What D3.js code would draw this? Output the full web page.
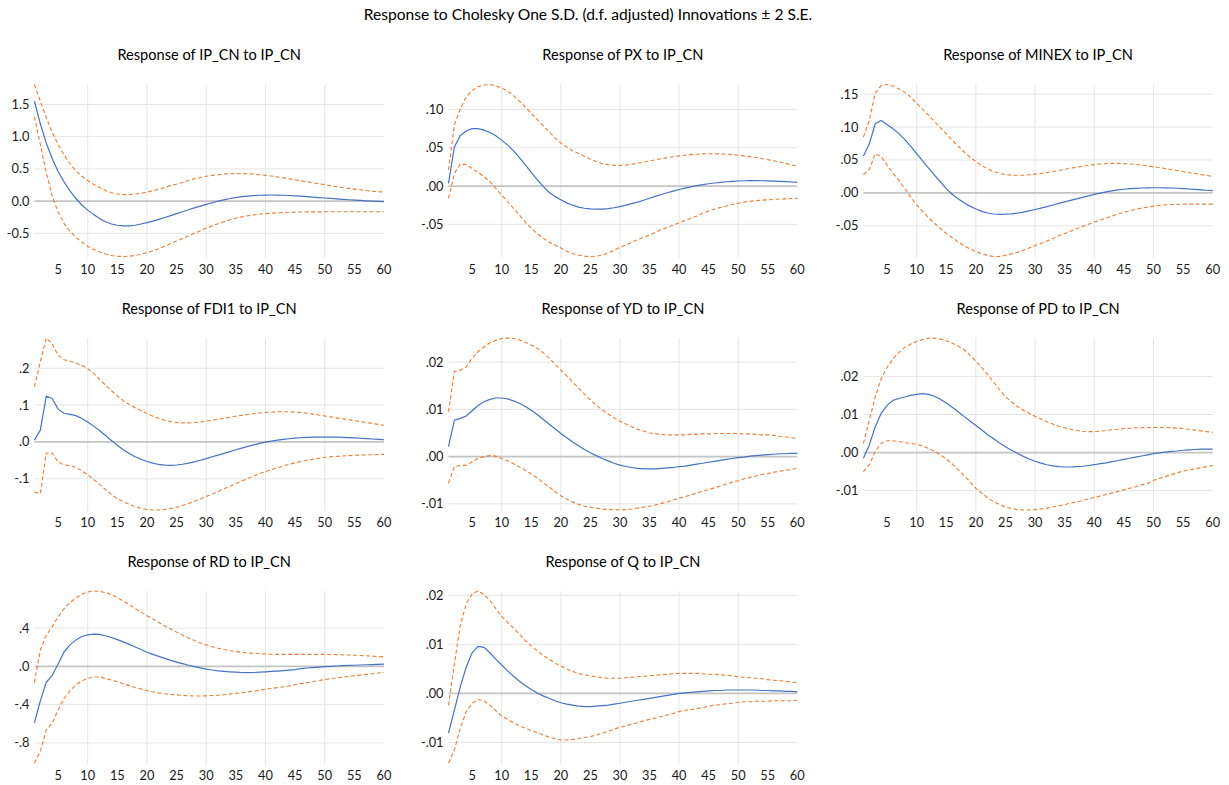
<!DOCTYPE html>
<html>
<head>
<meta charset="utf-8">
<script src="https://cdn.jsdelivr.net/npm/d3@7"></script>
<style>
  html, body { margin: 0; padding: 0; background: #ffffff; }
  svg { display: block; }
  text { font-family: "Lato", "Liberation Sans", sans-serif; }
</style>
</head>
<body>
<svg id="chart" width="1229" height="785"></svg>
<script>
// ---------------- DATA ----------------
const mainTitle = "Response to Cholesky One S.D. (d.f. adjusted) Innovations \u00B1 2 S.E.";
const periods = d3.range(1, 61);
const xTickValues = [5, 10, 15, 20, 25, 30, 35, 40, 45, 50, 55, 60];
const xGridValues = [10, 20, 30, 40, 50];

const panelTitles = [
  "Response of IP_CN to IP_CN", "Response of PX to IP_CN", "Response of MINEX to IP_CN",
  "Response of FDI1 to IP_CN", "Response of YD to IP_CN", "Response of PD to IP_CN",
  "Response of RD to IP_CN", "Response of Q to IP_CN"
];

// IP_CN
const ipcnIrf = [1.55,1.20,0.90,0.66,0.46,0.30,0.16,0.04,-0.06,-0.14,
  -0.21,-0.27,-0.32,-0.355,-0.375,-0.385,-0.385,-0.375,-0.355,-0.335,
  -0.31,-0.283,-0.255,-0.225,-0.195,-0.165,-0.135,-0.105,-0.077,-0.05,
  -0.025,0.0,0.02,0.04,0.055,0.068,0.078,0.086,0.091,0.094,
  0.095,0.094,0.091,0.087,0.082,0.076,0.069,0.062,0.055,0.048,
  0.041,0.034,0.027,0.021,0.015,0.01,0.005,0.0,-0.004,-0.008];
const ipcnUpper = [1.81,1.55,1.30,1.07,0.88,0.72,0.58,0.47,0.39,0.32,
  0.26,0.21,0.165,0.13,0.11,0.10,0.10,0.11,0.12,0.14,
  0.16,0.185,0.21,0.24,0.265,0.29,0.32,0.345,0.365,0.385,
  0.40,0.41,0.42,0.425,0.428,0.428,0.425,0.42,0.41,0.40,
  0.39,0.375,0.36,0.345,0.33,0.315,0.30,0.285,0.27,0.255,
  0.24,0.225,0.21,0.198,0.186,0.175,0.165,0.155,0.147,0.14];
const ipcnLower = [1.31,0.88,0.44,0.08,-0.17,-0.35,-0.47,-0.56,-0.64,-0.70,
  -0.75,-0.79,-0.82,-0.845,-0.855,-0.86,-0.855,-0.845,-0.825,-0.80,
  -0.77,-0.74,-0.70,-0.66,-0.62,-0.58,-0.54,-0.50,-0.46,-0.42,
  -0.385,-0.35,-0.32,-0.29,-0.265,-0.245,-0.228,-0.214,-0.203,-0.195,
  -0.188,-0.182,-0.178,-0.174,-0.171,-0.169,-0.168,-0.167,-0.167,-0.166,
  -0.166,-0.166,-0.165,-0.165,-0.165,-0.165,-0.165,-0.165,-0.165,-0.165];

// PX
const pxIrf = [0.0035,0.051,0.066,0.072,0.075,0.075,0.073,0.070,0.0656,0.060,
  0.0535,0.046,0.037,0.0275,0.018,0.0085,-0.0005,-0.008,-0.0135,-0.018,
  -0.022,-0.025,-0.0275,-0.029,-0.0298,-0.0302,-0.0302,-0.0295,-0.0283,-0.0268,
  -0.025,-0.023,-0.021,-0.0185,-0.016,-0.0135,-0.011,-0.0088,-0.0066,-0.0045,
  -0.0027,-0.001,0.0005,0.0018,0.003,0.004,0.0049,0.0056,0.0062,0.0066,
  0.0069,0.007,0.007,0.0069,0.0067,0.0064,0.0061,0.0057,0.0053,0.0048];
const pxUpper = [0.021,0.080,0.101,0.1165,0.125,0.1296,0.132,0.1326,0.131,0.128,
  0.124,0.118,0.111,0.103,0.095,0.087,0.079,0.071,0.063,0.056,
  0.051,0.046,0.0425,0.039,0.035,0.032,0.0295,0.028,0.027,0.027,
  0.0275,0.0285,0.0298,0.0312,0.0327,0.0342,0.0357,0.037,0.0383,0.0394,
  0.0403,0.041,0.0416,0.042,0.0422,0.0422,0.042,0.0416,0.041,0.0403,
  0.0394,0.0384,0.0372,0.0359,0.0345,0.033,0.0314,0.0297,0.0278,0.026];
const pxLower = [-0.016,0.0165,0.029,0.028,0.023,0.018,0.012,0.0057,-0.003,-0.0117,
  -0.0205,-0.029,-0.038,-0.047,-0.055,-0.062,-0.068,-0.073,-0.077,-0.081,
  -0.085,-0.088,-0.090,-0.0915,-0.092,-0.0915,-0.090,-0.0875,-0.084,-0.080,
  -0.077,-0.0735,-0.070,-0.067,-0.064,-0.0605,-0.057,-0.054,-0.051,-0.048,
  -0.045,-0.042,-0.039,-0.0355,-0.0325,-0.030,-0.028,-0.026,-0.024,-0.0225,
  -0.021,-0.020,-0.019,-0.0185,-0.018,-0.0175,-0.017,-0.0167,-0.0163,-0.016];

// MINEX
const minexIrf = [0.056,0.0747,0.105,0.110,0.104,0.0975,0.090,0.081,0.0707,0.0596,
  0.0485,0.0375,0.027,0.017,0.0066,-0.002,-0.009,-0.015,-0.020,-0.0245,
  -0.028,-0.0305,-0.032,-0.0325,-0.0323,-0.0318,-0.0308,-0.0292,-0.0273,-0.0252,
  -0.023,-0.0207,-0.0183,-0.0159,-0.0136,-0.0113,-0.009,-0.0067,-0.0044,-0.0022,
  -0.0002,0.0015,0.0031,0.0045,0.0056,0.0064,0.007,0.0075,0.0078,0.0079,
  0.0079,0.0077,0.0075,0.0071,0.0066,0.006,0.0054,0.0047,0.0041,0.0035];
const minexUpper = [0.0848,0.110,0.1515,0.163,0.1646,0.162,0.158,0.153,0.1455,0.136,
  0.127,0.118,0.1085,0.099,0.0895,0.080,0.071,0.0625,0.0545,0.0475,
  0.0415,0.0365,0.0325,0.0295,0.0278,0.027,0.0268,0.027,0.0276,0.0285,
  0.0295,0.031,0.0325,0.034,0.0358,0.0375,0.039,0.0405,0.042,0.043,
  0.044,0.0445,0.0448,0.0448,0.0445,0.044,0.0432,0.0422,0.041,0.0398,
  0.0385,0.037,0.0355,0.034,0.0325,0.031,0.0295,0.028,0.0265,0.025];
const minexLower = [0.0278,0.0354,0.0596,0.0556,0.042,0.030,0.019,0.0066,-0.0065,-0.018,
  -0.028,-0.0375,-0.046,-0.054,-0.0615,-0.068,-0.0745,-0.080,-0.085,-0.089,
  -0.0925,-0.095,-0.0965,-0.0965,-0.0945,-0.0925,-0.09,-0.087,-0.0835,-0.08,
  -0.0765,-0.073,-0.069,-0.065,-0.0615,-0.058,-0.0545,-0.051,-0.0475,-0.044,
  -0.041,-0.038,-0.035,-0.032,-0.0295,-0.027,-0.025,-0.023,-0.0215,-0.020,
  -0.019,-0.018,-0.0175,-0.0172,-0.017,-0.017,-0.017,-0.017,-0.017,-0.017];

// FDI1
const fdiIrf = [0.005,0.032,0.124,0.118,0.089,0.078,0.075,0.0715,0.0635,0.054,
  0.043,0.031,0.0175,0.004,-0.009,-0.021,-0.031,-0.040,-0.047,-0.053,
  -0.0575,-0.061,-0.063,-0.0635,-0.0625,-0.0605,-0.0575,-0.054,-0.0495,-0.045,
  -0.040,-0.0355,-0.031,-0.026,-0.021,-0.0165,-0.012,-0.008,-0.004,-0.0005,
  0.0025,0.005,0.007,0.0088,0.0103,0.0115,0.0124,0.013,0.0133,0.0134,
  0.0133,0.013,0.0125,0.0118,0.011,0.0101,0.0091,0.008,0.007,0.006];
const fdiUpper = [0.150,0.217,0.282,0.266,0.235,0.223,0.219,0.214,0.208,0.199,
  0.186,0.170,0.154,0.139,0.125,0.112,0.102,0.093,0.085,0.077,
  0.070,0.064,0.059,0.0552,0.0528,0.0518,0.0518,0.0527,0.0543,0.0565,
  0.059,0.0617,0.0645,0.0672,0.0698,0.0722,0.0745,0.0767,0.0786,0.0802,
  0.0813,0.082,0.0822,0.0818,0.081,0.0796,0.0778,0.0756,0.0732,0.0706,
  0.068,0.0654,0.0628,0.0603,0.0578,0.0553,0.0528,0.0503,0.0478,0.0455];
const fdiLower = [-0.136,-0.140,-0.030,-0.030,-0.054,-0.0625,-0.064,-0.069,-0.078,-0.089,
  -0.102,-0.115,-0.129,-0.142,-0.154,-0.162,-0.169,-0.175,-0.18,-0.183,
  -0.1845,-0.1845,-0.183,-0.1805,-0.177,-0.1725,-0.167,-0.161,-0.1545,-0.148,
  -0.141,-0.134,-0.127,-0.12,-0.113,-0.106,-0.099,-0.0925,-0.086,-0.0805,
  -0.075,-0.07,-0.065,-0.0605,-0.0565,-0.053,-0.0495,-0.0465,-0.044,-0.042,
  -0.0405,-0.039,-0.038,-0.037,-0.036,-0.0355,-0.035,-0.0345,-0.034,-0.0335];

// YD
const ydIrf = [0.0021,0.0077,0.0081,0.0086,0.0097,0.0108,0.0116,0.0121,0.0124,0.0124,
  0.0122,0.0118,0.0113,0.0106,0.0098,0.0089,0.0079,0.0069,0.0059,0.0049,
  0.004,0.0031,0.0023,0.0015,0.0008,0.0002,-0.0004,-0.0009,-0.0014,-0.0018,
  -0.0021,-0.0023,-0.0025,-0.0026,-0.0026,-0.0026,-0.0025,-0.0024,-0.0023,-0.0021,
  -0.002,-0.0018,-0.0016,-0.0014,-0.0012,-0.001,-0.0008,-0.0006,-0.0004,-0.0002,
  -0.0001,0.0001,0.0002,0.0003,0.0004,0.0005,0.0006,0.0006,0.0007,0.0007];
const ydUpper = [0.0095,0.018,0.0183,0.019,0.0208,0.0222,0.0232,0.0241,0.0246,0.025,
  0.0251,0.025,0.0247,0.0242,0.0236,0.0229,0.022,0.0209,0.0196,0.0183,
  0.0171,0.0158,0.0145,0.0132,0.012,0.0109,0.0099,0.009,0.0082,0.0075,
  0.0069,0.0063,0.0058,0.0054,0.005,0.0048,0.0047,0.0046,0.0046,0.0046,
  0.0046,0.0047,0.0047,0.0048,0.0048,0.0049,0.0049,0.0049,0.0049,0.0049,
  0.0048,0.0048,0.0047,0.0046,0.0046,0.0045,0.0043,0.0042,0.004,0.0038];
const ydLower = [-0.0056,-0.0021,-0.0019,-0.0018,-0.0011,-0.0004,0.0,0.0002,0.0001,-0.0004,
  -0.0009,-0.0015,-0.0022,-0.0029,-0.0037,-0.0045,-0.0055,-0.0064,-0.0074,-0.0083,
  -0.009,-0.0096,-0.0101,-0.0105,-0.0107,-0.0109,-0.0111,-0.0112,-0.0112,-0.0113,
  -0.0112,-0.0111,-0.0109,-0.0107,-0.0105,-0.0102,-0.0099,-0.0096,-0.0092,-0.0088,
  -0.0085,-0.0081,-0.0077,-0.0073,-0.007,-0.0066,-0.0062,-0.0058,-0.0054,-0.0051,
  -0.0047,-0.0044,-0.0041,-0.0038,-0.0036,-0.0033,-0.0031,-0.0029,-0.0027,-0.0025];

// PD
const pdIrf = [-0.0015,0.002,0.0068,0.0103,0.0124,0.0137,0.0142,0.0146,0.015,0.0153,
  0.0155,0.0153,0.0148,0.014,0.013,0.0119,0.0107,0.0095,0.0083,0.0071,
  0.0059,0.0047,0.0036,0.0025,0.0015,0.0006,-0.0002,-0.001,-0.0017,-0.0023,
  -0.0028,-0.0032,-0.0035,-0.0037,-0.0038,-0.0038,-0.0037,-0.0036,-0.0034,-0.0032,
  -0.0029,-0.0027,-0.0024,-0.0021,-0.0018,-0.0015,-0.0012,-0.0009,-0.0006,-0.0003,
  -0.0001,0.0001,0.0003,0.0004,0.0006,0.0007,0.0008,0.0009,0.0009,0.0009];
const pdUpper = [0.0024,0.0085,0.0146,0.0194,0.0224,0.0246,0.0263,0.0277,0.0285,0.0292,
  0.0297,0.03,0.0301,0.0298,0.0294,0.0288,0.028,0.027,0.0256,0.024,
  0.0223,0.0205,0.0185,0.0165,0.0147,0.0133,0.0121,0.0111,0.0103,0.0095,
  0.0088,0.0081,0.0075,0.0069,0.0065,0.0061,0.0058,0.0056,0.0055,0.0055,
  0.0056,0.0058,0.006,0.0061,0.0063,0.0064,0.0065,0.0065,0.0066,0.0066,
  0.0066,0.0066,0.0065,0.0064,0.0063,0.0061,0.0059,0.0057,0.0055,0.0053];
const pdLower = [-0.005,-0.0032,0.0003,0.0024,0.0031,0.0031,0.0029,0.0026,0.0024,0.0022,
  0.0017,0.0011,0.0003,-0.0006,-0.0017,-0.003,-0.0045,-0.006,-0.0077,-0.0094,
  -0.0107,-0.0119,-0.0129,-0.0137,-0.0143,-0.0147,-0.015,-0.0151,-0.0151,-0.015,
  -0.0148,-0.0146,-0.0143,-0.014,-0.0137,-0.0133,-0.013,-0.0126,-0.0122,-0.0118,
  -0.0114,-0.011,-0.0106,-0.0102,-0.0098,-0.0094,-0.009,-0.0085,-0.0081,-0.0073,
  -0.0068,-0.0063,-0.0058,-0.0053,-0.0049,-0.0046,-0.0043,-0.004,-0.0037,-0.0034];

// RD
const rdIrf = [-0.59,-0.36,-0.167,-0.095,0.025,0.15,0.225,0.277,0.312,0.33,
  0.338,0.335,0.32,0.302,0.28,0.256,0.23,0.203,0.176,0.148,
  0.125,0.104,0.083,0.063,0.045,0.028,0.012,-0.003,-0.016,-0.028,
  -0.038,-0.046,-0.052,-0.057,-0.061,-0.064,-0.065,-0.064,-0.061,-0.057,
  -0.053,-0.049,-0.044,-0.039,-0.033,-0.0225,-0.017,-0.012,-0.007,-0.003,
  0.001,0.004,0.007,0.010,0.012,0.0145,0.017,0.019,0.021,0.023];
const rdUpper = [-0.17,0.17,0.326,0.413,0.517,0.604,0.667,0.715,0.753,0.778,
  0.788,0.785,0.771,0.75,0.719,0.684,0.645,0.606,0.567,0.53,
  0.494,0.458,0.423,0.39,0.358,0.326,0.297,0.27,0.246,0.225,
  0.206,0.19,0.176,0.164,0.155,0.147,0.141,0.136,0.132,0.129,
  0.127,0.126,0.125,0.125,0.125,0.125,0.125,0.125,0.125,0.125,
  0.124,0.123,0.121,0.119,0.117,0.114,0.111,0.107,0.103,0.099];
const rdLower = [-1.01,-0.889,-0.663,-0.594,-0.455,-0.333,-0.257,-0.194,-0.153,-0.125,
  -0.111,-0.111,-0.125,-0.142,-0.16,-0.181,-0.201,-0.22,-0.237,-0.253,
  -0.266,-0.277,-0.286,-0.293,-0.298,-0.303,-0.307,-0.309,-0.309,-0.308,
  -0.305,-0.301,-0.296,-0.29,-0.283,-0.275,-0.267,-0.258,-0.249,-0.24,
  -0.231,-0.222,-0.213,-0.204,-0.19,-0.18,-0.17,-0.16,-0.148,-0.137,
  -0.128,-0.12,-0.112,-0.105,-0.098,-0.091,-0.084,-0.077,-0.07,-0.064];

// Q
const qIrf = [-0.0081,-0.0034,0.0014,0.0054,0.0083,0.0096,0.0094,0.0083,0.007,0.0058,
  0.0046,0.0035,0.0025,0.0016,0.0008,0.0001,-0.0005,-0.001,-0.0015,-0.0019,
  -0.0022,-0.0024,-0.0026,-0.0027,-0.0027,-0.0026,-0.0025,-0.0024,-0.0022,-0.002,
  -0.0018,-0.0016,-0.0014,-0.0012,-0.001,-0.0008,-0.0006,-0.0004,-0.0002,0.0,
  0.0001,0.0002,0.0003,0.0004,0.0005,0.0006,0.0006,0.0007,0.0007,0.0007,
  0.0007,0.0007,0.0007,0.0006,0.0006,0.0005,0.0005,0.0004,0.0004,0.0003];
const qUpper = [-0.0024,0.0061,0.0139,0.0183,0.0203,0.0209,0.0202,0.019,0.0173,0.0157,
  0.0145,0.0133,0.0121,0.0108,0.0097,0.0087,0.0078,0.007,0.0062,0.0056,
  0.005,0.0045,0.0041,0.0038,0.0036,0.0034,0.0032,0.0031,0.0031,0.0031,
  0.0032,0.0033,0.0034,0.0035,0.0036,0.0037,0.0038,0.0039,0.004,0.0041,
  0.0041,0.0041,0.0041,0.004,0.0039,0.0039,0.0038,0.0037,0.0036,0.0034,
  0.0033,0.0032,0.0031,0.003,0.0028,0.0027,0.0026,0.0025,0.0023,0.0022];
const qLower = [-0.0142,-0.0115,-0.0071,-0.0037,-0.002,-0.0012,-0.0015,-0.0024,-0.0035,-0.0046,
  -0.0053,-0.006,-0.0066,-0.0071,-0.0076,-0.008,-0.0085,-0.0089,-0.0092,-0.0095,
  -0.0095,-0.0094,-0.0092,-0.009,-0.0088,-0.0085,-0.0081,-0.0077,-0.0073,-0.0069,
  -0.0066,-0.0063,-0.006,-0.0056,-0.0053,-0.005,-0.0047,-0.0044,-0.0041,-0.0037,
  -0.0035,-0.0033,-0.0031,-0.0029,-0.0026,-0.0024,-0.0023,-0.0021,-0.002,-0.0018,
  -0.0017,-0.0017,-0.0016,-0.0016,-0.0016,-0.0015,-0.0015,-0.0015,-0.0015,-0.0014];

// Y-axis ticks per panel
const yTicksIpcn = [-0.5, 0, 0.5, 1.0, 1.5];
const yLabelsIpcn = ["-0.5", "0.0", "0.5", "1.0", "1.5"];
const yTicksPx = [-0.05, 0, 0.05, 0.10];
const yLabelsPx = ["-.05", ".00", ".05", ".10"];
const yTicksMinex = [-0.05, 0, 0.05, 0.10, 0.15];
const yLabelsMinex = ["-.05", ".00", ".05", ".10", ".15"];
const yTicksFdi = [-0.1, 0, 0.1, 0.2];
const yLabelsFdi = ["-.1", ".0", ".1", ".2"];
const yTicksYd = [-0.01, 0, 0.01, 0.02];
const yLabelsYd = ["-.01", ".00", ".01", ".02"];
const yTicksPd = [-0.01, 0, 0.01, 0.02];
const yLabelsPd = ["-.01", ".00", ".01", ".02"];
const yTicksRd = [-0.8, -0.4, 0, 0.4];
const yLabelsRd = ["-.8", "-.4", ".0", ".4"];
const yTicksQ = [-0.01, 0, 0.01, 0.02];
const yLabelsQ = ["-.01", ".00", ".01", ".02"];

// ---------------- BUILD ----------------
const panels = [
  {title: panelTitles[0], irf: ipcnIrf, up: ipcnUpper, lo: ipcnLower, ticks: yTicksIpcn, labels: yLabelsIpcn},
  {title: panelTitles[1], irf: pxIrf, up: pxUpper, lo: pxLower, ticks: yTicksPx, labels: yLabelsPx},
  {title: panelTitles[2], irf: minexIrf, up: minexUpper, lo: minexLower, ticks: yTicksMinex, labels: yLabelsMinex},
  {title: panelTitles[3], irf: fdiIrf, up: fdiUpper, lo: fdiLower, ticks: yTicksFdi, labels: yLabelsFdi},
  {title: panelTitles[4], irf: ydIrf, up: ydUpper, lo: ydLower, ticks: yTicksYd, labels: yLabelsYd},
  {title: panelTitles[5], irf: pdIrf, up: pdUpper, lo: pdLower, ticks: yTicksPd, labels: yLabelsPd},
  {title: panelTitles[6], irf: rdIrf, up: rdUpper, lo: rdLower, ticks: yTicksRd, labels: yLabelsRd},
  {title: panelTitles[7], irf: qIrf, up: qUpper, lo: qLower, ticks: yTicksQ, labels: yLabelsQ}
];

const colLeft = [34.4, 448.5, 863.4];
const colRight = [384, 797.3, 1212.7];
const rowTop = [84.5, 338, 591];
const plotH = 172;

const svg = d3.select("#chart");

svg.append("text")
  .attr("x", 588).attr("y", 20)
  .attr("text-anchor", "middle")
  .attr("font-size", 15.6)
  .attr("fill", "#000")
  .text(mainTitle);

panels.forEach((p, i) => {
  const c = i % 3, r = Math.floor(i / 3);
  const x0 = colLeft[c], x1 = colRight[c];
  const y0 = rowTop[r], y1 = rowTop[r] + plotH;
  const all = p.irf.concat(p.up, p.lo);
  const x = d3.scaleLinear().domain([1, 60]).range([x0, x1]);
  const y = d3.scaleLinear().domain(d3.extent(all)).range([y1, y0]);
  const g = svg.append("g");

  // vertical grid
  g.selectAll("line.vg").data(xGridValues).enter().append("line")
    .attr("x1", d => x(d)).attr("x2", d => x(d))
    .attr("y1", y0).attr("y2", y1 + 1)
    .attr("stroke", "#e4e4e4").attr("stroke-width", 1);

  // horizontal grid
  g.selectAll("line.hg").data(p.ticks.filter(t => t !== 0)).enter().append("line")
    .attr("x1", x(1)).attr("x2", x(60))
    .attr("y1", d => y(d)).attr("y2", d => y(d))
    .attr("stroke", "#e4e4e4").attr("stroke-width", 1);

  // zero line
  g.append("line")
    .attr("x1", x(1)).attr("x2", x(60))
    .attr("y1", y(0)).attr("y2", y(0))
    .attr("stroke", "#c4c4c4").attr("stroke-width", 1.8);

  // y tick labels
  g.selectAll("text.yl").data(p.ticks).enter().append("text")
    .attr("x", x0 - 5).attr("y", d => y(d))
    .attr("dy", "0.35em")
    .attr("text-anchor", "end")
    .attr("font-size", 12.8)
    .attr("fill", "#1a1a1a")
    .text((d, k) => p.labels[k]);

  // x tick labels
  g.selectAll("text.xl").data(xTickValues).enter().append("text")
    .attr("x", d => x(d)).attr("y", y1 + 13)
    .attr("dy", "0.35em")
    .attr("text-anchor", "middle")
    .attr("font-size", 12.8)
    .attr("fill", "#1a1a1a")
    .text(d => d);

  const line = arr => d3.line().x((d, k) => x(periods[k])).y(d => y(d))(arr);

  g.append("path").attr("d", line(p.up))
    .attr("fill", "none").attr("stroke", "#ED7D31").attr("stroke-width", 1.1)
    .attr("stroke-dasharray", "4,2.5");
  g.append("path").attr("d", line(p.lo))
    .attr("fill", "none").attr("stroke", "#ED7D31").attr("stroke-width", 1.1)
    .attr("stroke-dasharray", "4,2.5");
  g.append("path").attr("d", line(p.irf))
    .attr("fill", "none").attr("stroke", "#4472C4").attr("stroke-width", 1.2);

  // panel title
  svg.append("text")
    .attr("x", (x0 + x1) / 2).attr("y", y0 - 24.5)
    .attr("text-anchor", "middle")
    .attr("font-size", 14.6)
    .attr("fill", "#000")
    .text(p.title);
});
</script>
</body>
</html>
